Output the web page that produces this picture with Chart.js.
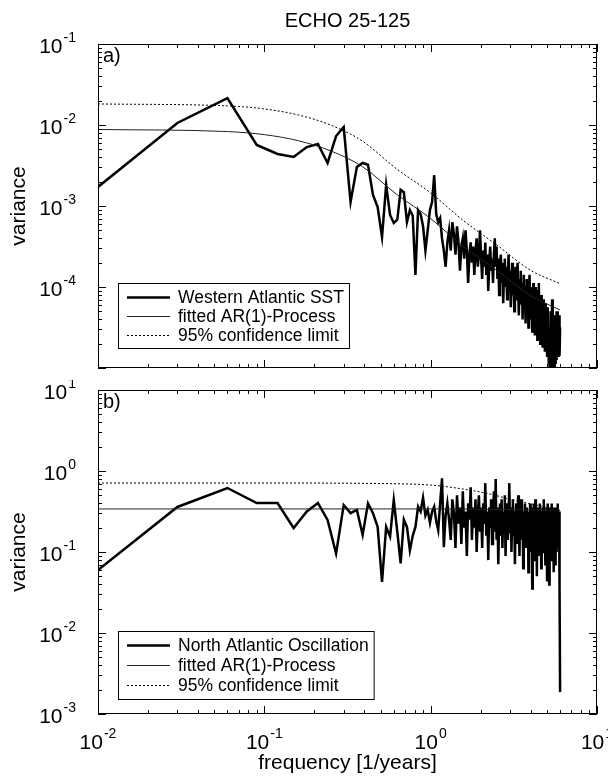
<!DOCTYPE html>
<html>
<head>
<meta charset="utf-8">
<script src="https://cdn.jsdelivr.net/npm/chart.js@4.4.1/dist/chart.umd.min.js"></script>
<style>
  html, body { margin: 0; padding: 0; background: #fff; }
  #wrap { position: relative; width: 608px; height: 776px; }
  canvas { position: absolute; left: 0; }
  #panelA { top: 0; }
  #panelB { top: 380px; }
</style>
</head>
<body>
<div id="wrap">
  <canvas id="panelA" width="608" height="380"></canvas>
  <canvas id="panelB" width="608" height="396"></canvas>
</div>
<script>
// periodogram frequencies: first point at the left edge, then a regular 0.03 1/yr grid up to 6
const firstFreq = 0.01;
const freqStep = 0.03;
const nFreq = 200;

// log10(variance), one value per frequency (first value = left edge)
const sstLog = [-2.765,
  -1.975, -1.667, -2.247, -2.358, -2.395, -2.272, -2.235, -2.469, -2.136, -2.025,
  -2.951, -2.519, -2.469, -2.49, -2.864, -3.012, -3.383, -2.741, -3.111, -3.21,
  -3.17, -2.80, -2.83, -3.20, -3.05, -3.12, -3.85, -3.05, -3.10, -3.25,
  -3.55, -3.30, -3.05, -2.95, -2.62, -3.10, -3.20, -3.15, -3.40, -3.55,
  -3.75, -3.45, -3.30, -3.55, -3.20, -3.35, -3.60, -3.25, -3.45, -3.80,
  -3.50, -3.40, -3.65, -3.30, -3.55, -3.95, -3.60, -3.45, -3.70, -3.50,
  -3.85, -3.55, -3.40, -3.75, -3.60, -3.30, -3.65, -3.90, -3.55, -3.75,
  -3.45, -3.85, -3.60, -4.05, -3.70, -3.50, -3.80, -3.65, -3.95, -3.60,
  -3.40, -3.75, -3.50, -3.90, -3.65, -4.10, -3.80, -3.60, -3.95, -3.70,
  -4.20, -3.85, -3.65, -4.00, -3.75, -4.15, -3.90, -3.60, -4.05, -3.80,
  -4.25, -3.95, -3.70, -4.10, -3.85, -4.30, -3.90, -3.75, -4.15, -3.95,
  -3.70, -4.05, -4.35, -3.90, -4.10, -3.80, -4.20, -3.95, -4.40, -4.00,
  -3.85, -4.25, -4.05, -4.45, -4.00, -3.90, -4.30, -4.10, -4.50, -4.05,
  -3.85, -4.20, -4.40, -4.00, -4.30, -4.55, -4.10, -3.95, -4.35, -4.15,
  -4.60, -4.20, -4.00, -4.40, -4.20, -4.65, -4.25, -4.05, -3.95, -4.45,
  -4.20, -4.70, -4.30, -4.10, -4.50, -4.25, -4.75, -4.35, -4.15, -4.55,
  -4.30, -4.80, -4.40, -4.20, -4.60, -4.35, -4.85, -4.45, -4.25, -4.70,
  -4.95, -4.50, -5.05, -4.60, -4.30, -5.10, -4.65, -4.90, -4.15, -4.55,
  -5.00, -4.40, -4.80, -5.10, -4.50, -4.85, -4.35, -4.95, -4.60, -4.30,
  -4.90, -4.45, -4.75, -4.30, -4.85, -4.40, -4.70, -4.35, -4.85, -4.50
];

const naoLog = [-1.222,
  -0.444, -0.21, -0.395, -0.395, -0.704, -0.50, -0.395, -0.605, -1.02, -0.42,
  -0.52, -0.48, -0.79, -0.40, -0.52, -0.69, -1.37, -0.69, -0.81, -0.36,
  -0.75, -1.14, -0.60, -0.69, -0.98, -0.80, -0.69, -0.44, -0.50, -0.33,
  -0.55, -0.48, -0.64, -0.50, -0.44, -0.62, -0.73, -0.40, -0.09, -0.94,
  -0.55, -0.40, -0.60, -0.85, -0.35, -0.52, -0.95, -0.30, -0.65, -0.45,
  -0.90, -0.25, -0.70, -0.50, -1.05, -0.40, -0.60, -0.20, -0.85, -0.45,
  -0.70, -0.35, -1.00, -0.55, -0.30, -0.75, -0.45, -0.95, -0.40, -0.65,
  -0.15, -0.80, -0.50, -1.10, -0.45, -0.70, -0.35, -0.90, -0.55, -0.25,
  -0.75, -0.10, -0.85, -0.45, -1.15, -0.60, -0.40, -0.80, -0.35, -0.95,
  -0.50, -0.70, -0.30, -1.05, -0.55, -0.40, -0.85, -0.60, -0.15, -0.75,
  -0.45, -1.00, -0.55, -0.35, -0.80, -0.50, -1.15, -0.60, -0.40, -0.90,
  -0.55, -0.30, -0.75, -1.05, -0.45, -0.65, -0.35, -0.85, -0.55, -1.20,
  -0.50, -0.70, -0.40, -0.95, -0.60, -0.45, -0.90, -0.55, -1.25, -0.50,
  -0.75, -0.40, -1.00, -0.60, -0.45, -1.45, -0.55, -0.80, -0.40, -1.10,
  -0.65, -0.35, -0.95, -0.55, -1.30, -0.50, -0.75, -0.45, -1.05, -0.60,
  -0.40, -0.90, -0.55, -1.20, -0.50, -0.70, -0.45, -1.00, -0.60, -0.35,
  -0.85, -0.55, -1.15, -0.50, -0.75, -0.45, -1.35, -0.60, -0.40, -0.95,
  -0.55, -1.40, -0.65, -0.45, -1.05, -0.60, -0.85, -0.40, -1.10, -0.55,
  -0.75, -0.45, -1.25, -0.60, -0.90, -0.50, -1.15, -0.65, -0.45, -1.00,
  -0.55, -0.80, -0.40, -0.95, -0.60, -0.90, -0.50, -1.40, -1.45, -2.73
];

// fitted AR(1) spectrum and 95% limit, sampled along the curves
const sstCurveFreq = [0.01, 0.06, 0.1, 0.16, 0.25, 0.39, 0.62, 1.0, 1.56, 2.5, 4.0, 6.0];
const sstFit  = [8.8e-3, 8.3e-3, 7.6e-3, 6.4e-3, 4.8e-3, 3.05e-3, 1.41e-3, 7.0e-4, 3.2e-4, 1.6e-4, 7.8e-5, 5.2e-5];
const sstConf = [1.82e-2, 1.72e-2, 1.58e-2, 1.33e-2, 1.0e-2, 6.3e-3, 2.9e-3, 1.45e-3, 6.7e-4, 3.3e-4, 1.6e-4, 1.1e-4];

const naoCurveFreq = [0.01, 0.1, 0.5, 1.0, 1.56, 2.27, 3.1, 4.3, 5.7, 6.0];
const naoFit  = [0.34, 0.34, 0.34, 0.34, 0.34, 0.335, 0.335, 0.33, 0.33, 0.33];
const naoConf = [0.71, 0.71, 0.70, 0.67, 0.60, 0.52, 0.44, 0.38, 0.33, 0.32];

const xTickExps = [-2, -1, 0, 1];
const yTickExpsA = [-1, -2, -3, -4];
const yTickExpsB = [1, 0, -1, -2, -3];

const FONT = '"Liberation Sans", Arial, Helvetica, sans-serif';

const freqs = [firstFreq];
for (let k = 1; k <= nFreq; k++) freqs.push(+(k * freqStep).toFixed(2));

const pts = (xs, ys) => xs.map((x, i) => ({ x: x, y: ys[i] }));
const logPts = (xs, ls) => xs.map((x, i) => ({ x: x, y: Math.pow(10, ls[i]) }));

function powLabel(ctx, x, y, exp, align) {
  ctx.font = '21px ' + FONT;
  const w10 = ctx.measureText('10').width;
  ctx.font = '14px ' + FONT;
  const sup = String(exp);
  const ws = ctx.measureText(sup).width;
  const total = w10 + 1 + ws;
  const x0 = align === 'right' ? x - total : x - total / 2;
  ctx.textAlign = 'left';
  ctx.textBaseline = 'alphabetic';
  ctx.font = '21px ' + FONT;
  ctx.fillText('10', x0, y);
  ctx.font = '14px ' + FONT;
  ctx.fillText(sup, x0 + w10 + 1, y - 11);
}

function logTicks(scale) {
  const out = [];
  const lo = Math.round(Math.log10(scale.min)), hi = Math.round(Math.log10(scale.max));
  for (let d = lo; d <= hi; d++) {
    for (let m = 1; m <= 9; m++) {
      if (d === hi && m > 1) break;
      out.push({ v: m * Math.pow(10, d), major: m === 1 });
    }
  }
  return out;
}

const framePlugin = {
  id: 'frame',
  afterDatasetsDraw(chart, args, o) {
    const ctx = chart.ctx, a = chart.chartArea;
    const xs = chart.scales.x, ys = chart.scales.y;
    ctx.save();
    ctx.strokeStyle = '#000';
    ctx.fillStyle = '#000';
    ctx.lineWidth = 1;
    ctx.setLineDash([]);
    ctx.strokeRect(a.left + 0.5, a.top + 0.5, a.right - a.left - 1, a.bottom - a.top - 1);

    // inward ticks on all four sides
    ctx.beginPath();
    logTicks(xs).forEach(t => {
      const p = Math.round(xs.getPixelForValue(t.v)) + 0.5;
      const len = t.major ? 8 : 4;
      ctx.moveTo(p, a.bottom); ctx.lineTo(p, a.bottom - len);
      ctx.moveTo(p, a.top); ctx.lineTo(p, a.top + len);
    });
    logTicks(ys).forEach(t => {
      const p = Math.round(ys.getPixelForValue(t.v)) + 0.5;
      const len = t.major ? 8 : 4;
      ctx.moveTo(a.left, p); ctx.lineTo(a.left + len, p);
      ctx.moveTo(a.right, p); ctx.lineTo(a.right - len, p);
    });
    ctx.stroke();

    // tick labels
    o.yExps.forEach(e => powLabel(ctx, a.left - 22, ys.getPixelForValue(Math.pow(10, e)) + 9, e, 'right'));
    if (o.xLabels) {
      xTickExps.forEach(e => powLabel(ctx, xs.getPixelForValue(Math.pow(10, e)), a.bottom + 35, e, 'center'));
    }

    // panel letter
    ctx.font = '20px ' + FONT;
    ctx.textAlign = 'left';
    ctx.textBaseline = 'alphabetic';
    ctx.fillText(o.panel, a.left + 5, a.top + 18);

    // axis titles
    ctx.save();
    ctx.translate(19, (a.top + a.bottom) / 2);
    ctx.rotate(-Math.PI / 2);
    ctx.textAlign = 'center';
    ctx.textBaseline = 'middle';
    ctx.font = '21px ' + FONT;
    ctx.fillText('variance', 0, 0);
    ctx.restore();
    if (o.title) {
      ctx.textAlign = 'center';
      ctx.textBaseline = 'middle';
      ctx.font = '20px ' + FONT;
      ctx.fillText(o.title, (a.left + a.right) / 2, 21);
    }
    if (o.xTitle) {
      ctx.textAlign = 'center';
      ctx.textBaseline = 'middle';
      ctx.font = '21px ' + FONT;
      ctx.fillText(o.xTitle, (a.left + a.right) / 2, a.bottom + 49);
    }

    // legend box
    const L = o.legend;
    const sets = chart.data.datasets.slice().sort((p, q) => p.legendOrder - q.legendOrder);
    ctx.font = '17.5px ' + FONT;
    const tw = Math.max(...sets.map(s => ctx.measureText(s.label).width));
    const h = L.rowH * sets.length + 8;
    ctx.fillStyle = '#fff';
    ctx.fillRect(L.left, L.top, 60 + tw + 5, h);
    ctx.fillStyle = '#000';
    ctx.strokeRect(L.left + 0.5, L.top + 0.5, 60 + tw + 5, h);
    sets.forEach((s, i) => {
      const cy = L.top + 14 + i * L.rowH;
      ctx.save();
      ctx.strokeStyle = s.borderColor;
      ctx.lineWidth = s.borderWidth;
      ctx.setLineDash(s.borderDash || []);
      ctx.beginPath();
      ctx.moveTo(L.left + 9, cy + 0.5);
      ctx.lineTo(L.left + 52, cy + 0.5);
      ctx.stroke();
      ctx.restore();
      ctx.textAlign = 'left';
      ctx.textBaseline = 'middle';
      ctx.fillText(s.label, L.left + 60, cy + 1);
    });
    ctx.restore();
  }
};

function makeChart(id, seriesLabel, dataPts, curveFreq, fit, conf, yMin, yMax, pad, plugOpts) {
  return new Chart(document.getElementById(id), {
    type: 'line',
    data: {
      datasets: [
        { label: '95% confidence limit', legendOrder: 2, data: pts(curveFreq, conf),
          borderColor: '#000', borderWidth: 1, borderDash: [2, 2], pointRadius: 0,
          cubicInterpolationMode: 'monotone' },
        { label: 'fitted AR(1)-Process', legendOrder: 1, data: pts(curveFreq, fit),
          borderColor: '#222', borderWidth: 1, pointRadius: 0, cubicInterpolationMode: 'monotone' },
        { label: seriesLabel, legendOrder: 0, data: dataPts,
          borderColor: '#000', borderWidth: 2.5, pointRadius: 0, tension: 0, borderJoinStyle: 'miter' }
      ]
    },
    options: {
      responsive: false,
      animation: false,
      events: [],
      layout: { padding: pad },
      scales: {
        x: { type: 'logarithmic', min: 0.01, max: 10, display: false },
        y: { type: 'logarithmic', min: yMin, max: yMax, display: false }
      },
      plugins: {
        legend: { display: false },
        tooltip: { enabled: false },
        frame: plugOpts
      }
    },
    plugins: [framePlugin]
  });
}

makeChart('panelA', 'Western Atlantic SST', logPts(freqs, sstLog), sstCurveFreq, sstFit, sstConf,
  1e-5, 1e-1, { left: 98, right: 11, top: 44, bottom: 12 },
  { panel: 'a)', yExps: yTickExpsA, xLabels: false, title: 'ECHO 25-125', legend: { left: 118, top: 283, rowH: 19 } });

makeChart('panelB', 'North Atlantic Oscillation', logPts(freqs, naoLog), naoCurveFreq, naoFit, naoConf,
  1e-3, 1e1, { left: 98, right: 11, top: 10, bottom: 62 },
  { panel: 'b)', yExps: yTickExpsB, xLabels: true, xTitle: 'frequency [1/years]', legend: { left: 118, top: 251, rowH: 20 } });
</script>
</body>
</html>
